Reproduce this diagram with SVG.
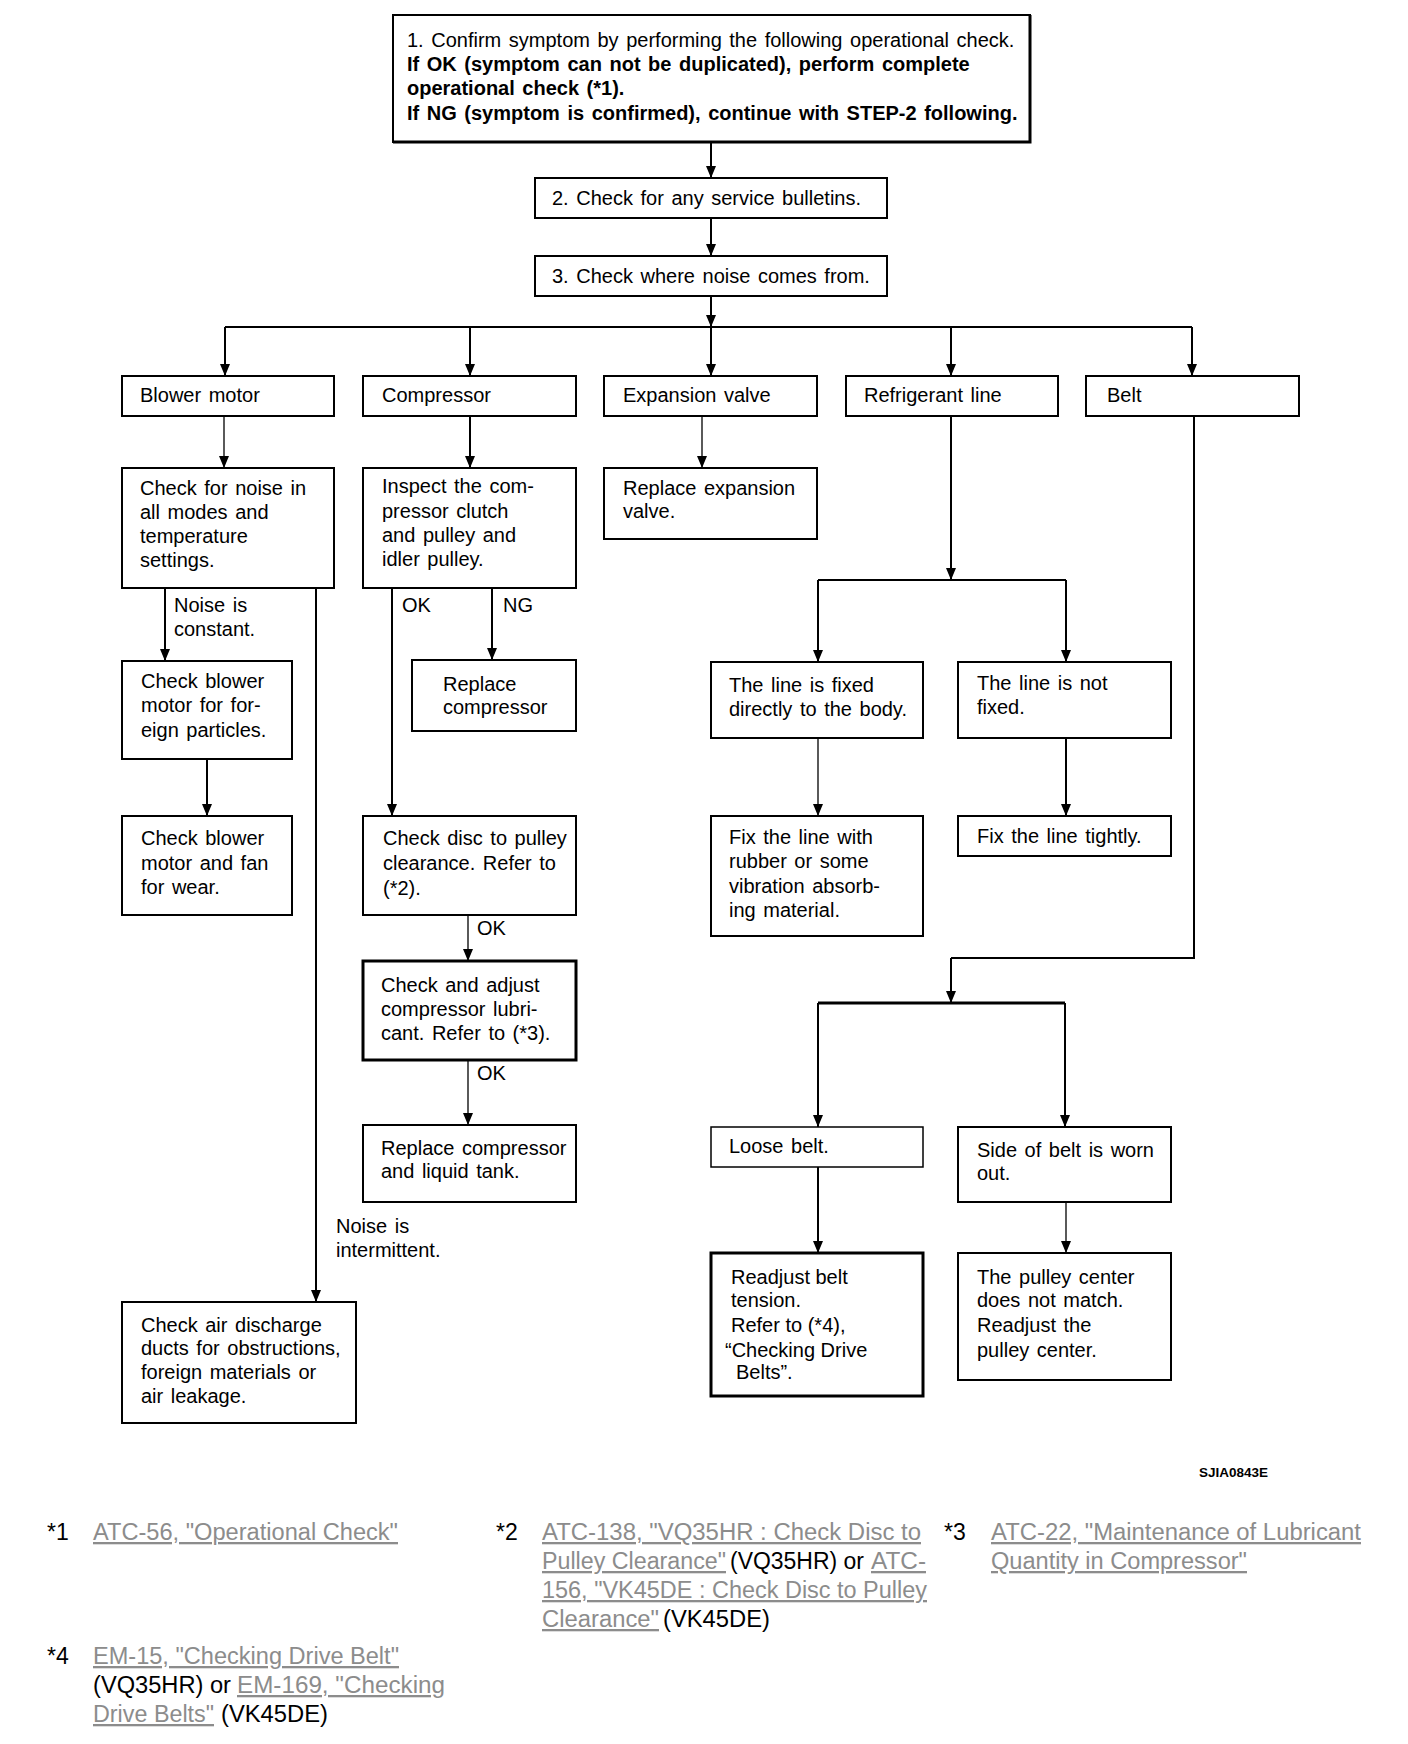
<svg xmlns="http://www.w3.org/2000/svg" width="1408" height="1744" viewBox="0 0 1408 1744">
<defs>
<marker id="ah" markerUnits="userSpaceOnUse" markerWidth="12" markerHeight="10" refX="12" refY="5" orient="auto"><path d="M0,0 L12,5 L0,10 z" fill="#000"/></marker>
</defs>
<style>
.box{fill:#fff;stroke:#000;stroke-width:2}
.thick{stroke-width:3}
.thin{stroke-width:1.5}
.t{font-family:"Liberation Sans",Arial,Helvetica,sans-serif;font-size:20px;fill:#000;word-spacing:2px}
.b{font-weight:bold}
.c{fill:none;stroke:#000;stroke-width:2}
.ca{fill:none;stroke:#000;stroke-width:2;marker-end:url(#ah)}
.cat{fill:none;stroke:#000;stroke-width:1.3;marker-end:url(#ah)}
.fn{font-family:"Liberation Sans",Arial,Helvetica,sans-serif;font-size:23px;fill:#000}
.lk{fill:#8c8c8c;text-decoration:underline}
.id{font-family:"Liberation Sans",Arial,Helvetica,sans-serif;font-size:13px;font-weight:bold;fill:#000}
</style>
<rect width="1408" height="1744" fill="#fff"/>

<g id="connectors">
<path class="ca" d="M711,143 V178"/>
<path class="ca" d="M711,218 V256"/>
<path class="ca" d="M711,296 V327"/>
<path class="c" d="M225,327 H1192"/>
<path class="ca" d="M225,327 V376"/>
<path class="ca" d="M470,327 V376"/>
<path class="ca" d="M711,327 V376"/>
<path class="ca" d="M951,327 V376"/>
<path class="ca" d="M1192,327 V376"/>
<path class="cat" d="M224,416 V468"/>
<path class="ca" d="M165,588 V661"/>
<path class="ca" d="M316,588 V1302"/>
<path class="ca" d="M207,759 V816"/>
<path class="ca" d="M470,416 V468"/>
<path class="ca" d="M392,588 V816"/>
<path class="ca" d="M492,588 V660"/>
<path class="cat" d="M468,915 V961"/>
<path class="cat" d="M468,1060 V1125"/>
<path class="cat" d="M702,416 V468"/>
<path class="ca" d="M951,416 V580"/>
<path class="c" d="M818,580 H1066"/>
<path class="ca" d="M818,580 V662"/>
<path class="ca" d="M1066,580 V662"/>
<path class="cat" d="M818,738 V816"/>
<path class="ca" d="M1066,738 V816"/>
<path class="c" d="M1194,416 V958 H951"/>
<path class="ca" d="M951,958 V1003"/>
<path class="c" style="stroke-width:3" d="M818,1003 H1065"/>
<path class="ca" d="M818,1003 V1127"/>
<path class="ca" d="M1065,1003 V1127"/>
<path class="ca" d="M818,1167 V1253"/>
<path class="cat" d="M1066,1202 V1253"/>
</g>

<g id="labels">
<text class="t" x="174" y="612">Noise is</text>
<text class="t" x="174" y="636">constant.</text>
<text class="t" x="336" y="1233">Noise is</text>
<text class="t" x="336" y="1257">intermittent.</text>
<text class="t" x="402" y="612">OK</text>
<text class="t" x="503" y="612">NG</text>
<text class="t" x="477" y="935">OK</text>
<text class="t" x="477" y="1080">OK</text>
</g>

<g id="n1">
<rect class="box" x="393" y="15" width="637" height="127"/>
<path d="M1030,15 V142 H393" fill="none" stroke="#000" stroke-width="3"/>
<text class="t" x="407" y="47">1. Confirm symptom by performing the following operational check.</text>
<text class="t b" x="407" y="71">If OK (symptom can not be duplicated), perform complete</text>
<text class="t b" x="407" y="95">operational check (*1).</text>
<text class="t b" x="407" y="120">If NG (symptom is confirmed), continue with STEP-2 following.</text>
</g>
<g id="n2">
<rect class="box" x="535" y="178" width="352" height="40"/>
<text class="t" x="552" y="205">2. Check for any service bulletins.</text>
</g>
<g id="n3">
<rect class="box" x="535" y="256" width="352" height="40"/>
<text class="t" x="552" y="283">3. Check where noise comes from.</text>
</g>

<g id="blower-motor">
<rect class="box" x="122" y="376" width="212" height="40"/>
<text class="t" x="140" y="402">Blower motor</text>
</g>
<g id="compressor">
<rect class="box" x="363" y="376" width="213" height="40"/>
<text class="t" x="382" y="402">Compressor</text>
</g>
<g id="expansion-valve">
<rect class="box" x="604" y="376" width="213" height="40"/>
<text class="t" x="623" y="402">Expansion valve</text>
</g>
<g id="refrigerant-line">
<rect class="box" x="846" y="376" width="212" height="40"/>
<text class="t" x="864" y="402">Refrigerant line</text>
</g>
<g id="belt">
<rect class="box" x="1086" y="376" width="213" height="40"/>
<text class="t" x="1107" y="402">Belt</text>
</g>

<g id="check-noise">
<rect class="box" x="122" y="468" width="212" height="120"/>
<text class="t" x="140" y="495">Check for noise in</text>
<text class="t" x="140" y="519">all modes and</text>
<text class="t" x="140" y="543">temperature</text>
<text class="t" x="140" y="567">settings.</text>
</g>
<g id="check-foreign">
<rect class="box" x="122" y="661" width="170" height="98"/>
<text class="t" x="141" y="688">Check blower</text>
<text class="t" x="141" y="712">motor for for-</text>
<text class="t" x="141" y="737">eign particles.</text>
</g>
<g id="check-wear">
<rect class="box" x="122" y="816" width="170" height="99"/>
<text class="t" x="141" y="845">Check blower</text>
<text class="t" x="141" y="870">motor and fan</text>
<text class="t" x="141" y="894">for wear.</text>
</g>
<g id="check-ducts">
<rect class="box" x="122" y="1302" width="234" height="121"/>
<text class="t" x="141" y="1332">Check air discharge</text>
<text class="t" x="141" y="1355">ducts for obstructions,</text>
<text class="t" x="141" y="1379">foreign materials or</text>
<text class="t" x="141" y="1403">air leakage.</text>
</g>

<g id="inspect-clutch">
<rect class="box" x="363" y="468" width="213" height="120"/>
<text class="t" x="382" y="493">Inspect the com-</text>
<text class="t" x="382" y="518">pressor clutch</text>
<text class="t" x="382" y="542">and pulley and</text>
<text class="t" x="382" y="566">idler pulley.</text>
</g>
<g id="replace-compressor">
<rect class="box" x="412" y="660" width="164" height="71"/>
<text class="t" x="443" y="691">Replace</text>
<text class="t" x="443" y="714">compressor</text>
</g>
<g id="check-disc">
<rect class="box" x="363" y="816" width="213" height="99"/>
<text class="t" x="383" y="845">Check disc to pulley</text>
<text class="t" x="383" y="870">clearance. Refer to</text>
<text class="t" x="383" y="895">(*2).</text>
</g>
<g id="check-lubricant">
<rect class="box thick" x="363" y="961" width="213" height="99"/>
<text class="t" x="381" y="992">Check and adjust</text>
<text class="t" x="381" y="1016">compressor lubri-</text>
<text class="t" x="381" y="1040">cant. Refer to (*3).</text>
</g>
<g id="replace-tank">
<rect class="box" x="363" y="1125" width="213" height="77"/>
<text class="t" x="381" y="1155">Replace compressor</text>
<text class="t" x="381" y="1178">and liquid tank.</text>
</g>

<g id="replace-valve">
<rect class="box" x="604" y="468" width="213" height="71"/>
<text class="t" x="623" y="495">Replace expansion</text>
<text class="t" x="623" y="518">valve.</text>
</g>

<g id="line-fixed">
<rect class="box" x="711" y="662" width="212" height="76"/>
<text class="t" x="729" y="692">The line is fixed</text>
<text class="t" x="729" y="716">directly to the body.</text>
</g>
<g id="line-not-fixed">
<rect class="box" x="958" y="662" width="213" height="76"/>
<text class="t" x="977" y="690">The line is not</text>
<text class="t" x="977" y="714">fixed.</text>
</g>
<g id="fix-rubber">
<rect class="box" x="711" y="816" width="212" height="120"/>
<text class="t" x="729" y="844">Fix the line with</text>
<text class="t" x="729" y="868">rubber or some</text>
<text class="t" x="729" y="893">vibration absorb-</text>
<text class="t" x="729" y="917">ing material.</text>
</g>
<g id="fix-tightly">
<rect class="box" x="958" y="816" width="213" height="40"/>
<text class="t" x="977" y="843">Fix the line tightly.</text>
</g>

<g id="loose-belt">
<rect class="box thin" x="711" y="1127" width="212" height="40"/>
<text class="t" x="729" y="1153">Loose belt.</text>
</g>
<g id="side-worn">
<rect class="box" x="958" y="1127" width="213" height="75"/>
<text class="t" x="977" y="1157">Side of belt is worn</text>
<text class="t" x="977" y="1180">out.</text>
</g>
<g id="readjust-tension">
<rect class="box thick" x="711" y="1253" width="212" height="143"/>
<text class="t" x="731" y="1284" style="word-spacing:0">Readjust belt</text>
<text class="t" x="731" y="1307" style="word-spacing:0">tension.</text>
<text class="t" x="731" y="1332" style="word-spacing:0">Refer to (*4),</text>
<text class="t" x="725" y="1357" style="word-spacing:0">“Checking Drive</text>
<text class="t" x="736" y="1379" style="word-spacing:0">Belts”.</text>
</g>
<g id="pulley-center">
<rect class="box" x="958" y="1253" width="213" height="127"/>
<text class="t" x="977" y="1284">The pulley center</text>
<text class="t" x="977" y="1307">does not match.</text>
<text class="t" x="977" y="1332">Readjust the</text>
<text class="t" x="977" y="1357">pulley center.</text>
</g>

<g id="figure-id">
<text class="id" x="1199" y="1477" textLength="69" lengthAdjust="spacingAndGlyphs">SJIA0843E</text>
</g>

<g id="footnotes">
<text class="fn" x="47" y="1540">*1</text>
<text class="fn lk" x="93" y="1540" textLength="305" lengthAdjust="spacingAndGlyphs">ATC-56, "Operational Check"</text>
<text class="fn" x="496" y="1540">*2</text>
<text class="fn lk" x="542" y="1540" textLength="379" lengthAdjust="spacingAndGlyphs">ATC-138, "VQ35HR : Check Disc to</text>
<text class="fn lk" x="542" y="1569" textLength="184" lengthAdjust="spacingAndGlyphs">Pulley Clearance"</text>
<text class="fn" x="730" y="1569" textLength="134" lengthAdjust="spacingAndGlyphs">(VQ35HR) or</text>
<text class="fn lk" x="871" y="1569" textLength="55" lengthAdjust="spacingAndGlyphs">ATC-</text>
<text class="fn lk" x="542" y="1598" textLength="385" lengthAdjust="spacingAndGlyphs">156, "VK45DE : Check Disc to Pulley</text>
<text class="fn lk" x="542" y="1627" textLength="117" lengthAdjust="spacingAndGlyphs">Clearance"</text>
<text class="fn" x="663" y="1627" textLength="107" lengthAdjust="spacingAndGlyphs">(VK45DE)</text>
<text class="fn" x="944" y="1540">*3</text>
<text class="fn lk" x="991" y="1540" textLength="370" lengthAdjust="spacingAndGlyphs">ATC-22, "Maintenance of Lubricant</text>
<text class="fn lk" x="991" y="1569" textLength="256" lengthAdjust="spacingAndGlyphs">Quantity in Compressor"</text>
<text class="fn" x="47" y="1664">*4</text>
<text class="fn lk" x="93" y="1664" textLength="306" lengthAdjust="spacingAndGlyphs">EM-15, "Checking Drive Belt"</text>
<text class="fn" x="93" y="1693" textLength="138" lengthAdjust="spacingAndGlyphs">(VQ35HR) or</text>
<text class="fn lk" x="237" y="1693" textLength="208" lengthAdjust="spacingAndGlyphs">EM-169, "Checking</text>
<text class="fn lk" x="93" y="1722" textLength="121" lengthAdjust="spacingAndGlyphs">Drive Belts"</text>
<text class="fn" x="221" y="1722" textLength="107" lengthAdjust="spacingAndGlyphs">(VK45DE)</text>
</g>
</svg>
